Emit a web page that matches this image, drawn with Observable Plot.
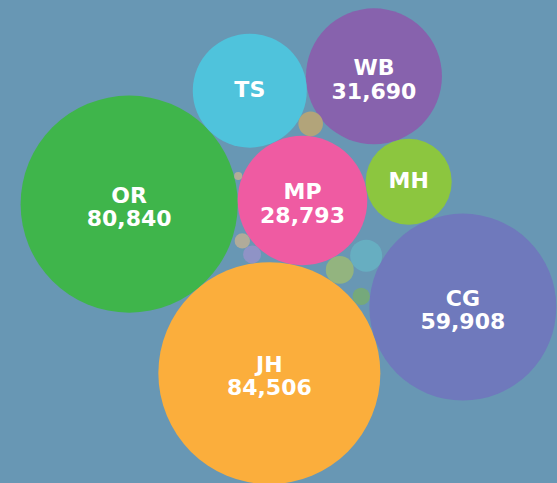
<!DOCTYPE html>
<html>
<head>
<meta charset="utf-8">
<script src="https://cdn.jsdelivr.net/npm/d3@7"></script>
<script src="https://cdn.jsdelivr.net/npm/@observablehq/plot@0.6"></script>
<style>
  html, body { margin: 0; padding: 0; background: #6897b4; overflow: hidden; }
</style>
</head>
<body>
<div id="chart"></div>
<script>
// ---- data ----
const states = ["JH", "OR", "CG", "WB", "MP", "TS", "MH", "AP", "KA", "BR", "UP", "GJ", "RJ", "TN"];
const values = [84506, 80840, 59908, 31690, 28793, 22300, 12700, 1040, 110, 405, 555, 1340, 1760, 520];
const colors = ["#fbae3c", "#3fb54b", "#6f79bc", "#8762ad", "#ef5ba2", "#4fc3dc", "#8cc63f",
                "#b2a47a", "#b3ad98", "#b0ab9a", "#8f93c6", "#93b47f", "#67aec1", "#75a97b"];

const W = 557, H = 483;
const rMax = 111;
const rOpts = {type: "sqrt", domain: [0, d3.max(values)], range: [0, rMax]};
const rScale = Plot.scale({r: rOpts});
const R = s => rScale.apply(values[states.indexOf(s)]);

// ---- packed layout: each circle tangent to two already placed ones ----
const pos = {};
function polar(from, s, angleDeg) {
  const d = R(from) + R(s), t = angleDeg * Math.PI / 180;
  pos[s] = [pos[from][0] + d * Math.cos(t), pos[from][1] + d * Math.sin(t)];
}
function tangent(a, b, s, side) {
  const A = pos[a], B = pos[b];
  const dA = R(a) + R(s), dB = R(b) + R(s);
  const dx = B[0] - A[0], dy = B[1] - A[1], D = Math.hypot(dx, dy);
  const ux = dx / D, uy = dy / D;
  const k = (dA * dA - dB * dB + D * D) / (2 * D);
  const h = Math.sqrt(Math.max(0, dA * dA - k * k));
  pos[s] = [A[0] + k * ux - side * h * uy, A[1] + k * uy + side * h * ux];
}
pos.MP = [0, 0];
polar("MP", "OR", 178.8);
tangent("MP", "OR", "JH", -1);
tangent("MP", "OR", "TS", 1);
polar("MP", "MH", -10);
tangent("TS", "MH", "WB", -1);
tangent("MH", "JH", "CG", -1);
tangent("TS", "MP", "AP", -1);
tangent("MP", "OR", "KA", 1);
tangent("MP", "JH", "UP", 1);
tangent("MP", "UP", "BR", 1);
tangent("MP", "JH", "GJ", -1);
tangent("GJ", "CG", "RJ", -1);
tangent("CG", "JH", "TN", 1);

const anchor = [302, 200];
const data = states.map((s, i) => ({
  state: s, value: values[i], color: colors[i],
  x: pos[s][0] + anchor[0], y: pos[s][1] + anchor[1]
}));

const fmt = d3.format(",");
const textStyle = {fill: "white", fontSize: 22, fontWeight: "bold", fontFamily: "DejaVu Sans", lineHeight: 1.07};

const chart = Plot.plot({
  width: W, height: H,
  margin: 0,
  style: {background: "#6897b4", overflow: "visible"},
  x: {domain: [0, W], range: [0, W], axis: null},
  y: {domain: [0, H], range: [0, H], axis: null},
  r: rOpts,
  marks: [
    Plot.dot(data, {x: "x", y: "y", r: "value", fill: "color", stroke: null}),
    Plot.text(data.filter(d => d.value >= 25000), {
      x: "x", y: "y", text: d => d.state + "\n" + fmt(d.value), dy: 3, ...textStyle
    }),
    Plot.text(data.filter(d => d.value >= 10000 && d.value < 25000), {
      x: "x", y: "y", text: "state", dy: -1, ...textStyle
    })
  ]
});
document.getElementById("chart").appendChild(chart);
</script>
</body>
</html>
